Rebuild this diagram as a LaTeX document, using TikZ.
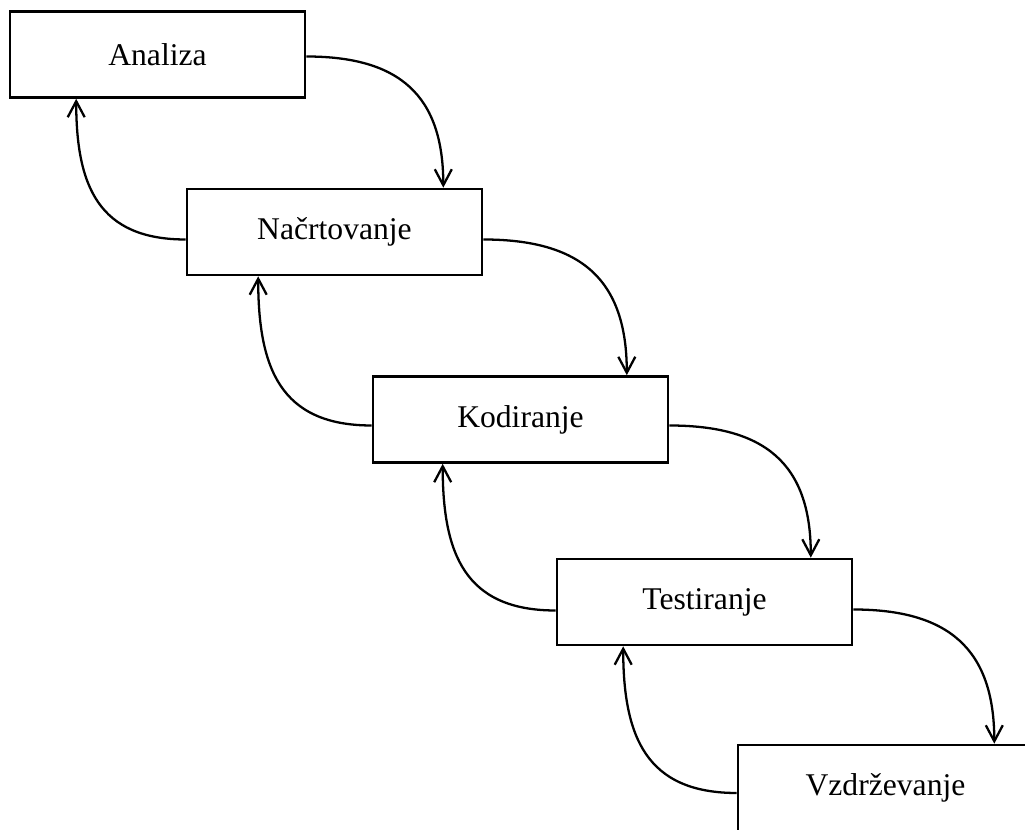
\documentclass[tikz,border=0pt]{standalone}
\usepackage{fontspec}
\setmainfont{Liberation Serif}
\usetikzlibrary{arrows.meta}
\tikzset{
  phase/.style={draw, line width=1.5pt, minimum width=5.9cm, minimum height=1.72cm,
    inner sep=0pt, font=\fontsize{18}{20}\selectfont},
  fwd/.style={line width=1.3pt, -{Straight Barb[length=3.2mm,width=3.4mm,line width=1.3pt]}, looseness=1.25},
  back/.style={fwd},
}
\begin{document}
\begin{tikzpicture}[x=0.02cm, y=-0.02cm]
\clip (0,0) rectangle (1025,830);
\node[phase] (ana) at (157.5,54.5) {Analiza};
\node[phase] (nac) at (334.5,232) {Načrtovanje};
\node[phase] (kod) at (520.5,419.5) {Kodiranje};
\node[phase] (tes) at (704.5,602) {Testiranje};
\node[phase] (vzd) at (885.5,788) {Vzdrževanje};
% naprej
\draw[fwd] ([yshift=-0.04cm]ana.east) to[out=0, in=90] ([xshift=-0.8cm]nac.north east);
\draw[fwd] ([yshift=-0.15cm]nac.east) to[out=0, in=90] ([xshift=-0.85cm]kod.north east);
\draw[fwd] ([yshift=-0.12cm]kod.east) to[out=0, in=90] ([xshift=-0.85cm]tes.north east);
\draw[fwd] ([yshift=-0.15cm]tes.east) to[out=0, in=90] ([xshift=-0.8cm]vzd.north east);
% nazaj
\draw[back] ([yshift=-0.15cm]nac.west) to[out=180, in=-90] ([xshift=1.35cm]ana.south west);
\draw[back] ([yshift=-0.12cm]kod.west) to[out=180, in=-90] ([xshift=1.45cm]nac.south west);
\draw[back] ([yshift=-0.17cm]tes.west) to[out=180, in=-90] ([xshift=1.42cm]kod.south west);
\draw[back] ([yshift=-0.1cm]vzd.west) to[out=180, in=-90] ([xshift=1.35cm]tes.south west);
\end{tikzpicture}
\end{document}
